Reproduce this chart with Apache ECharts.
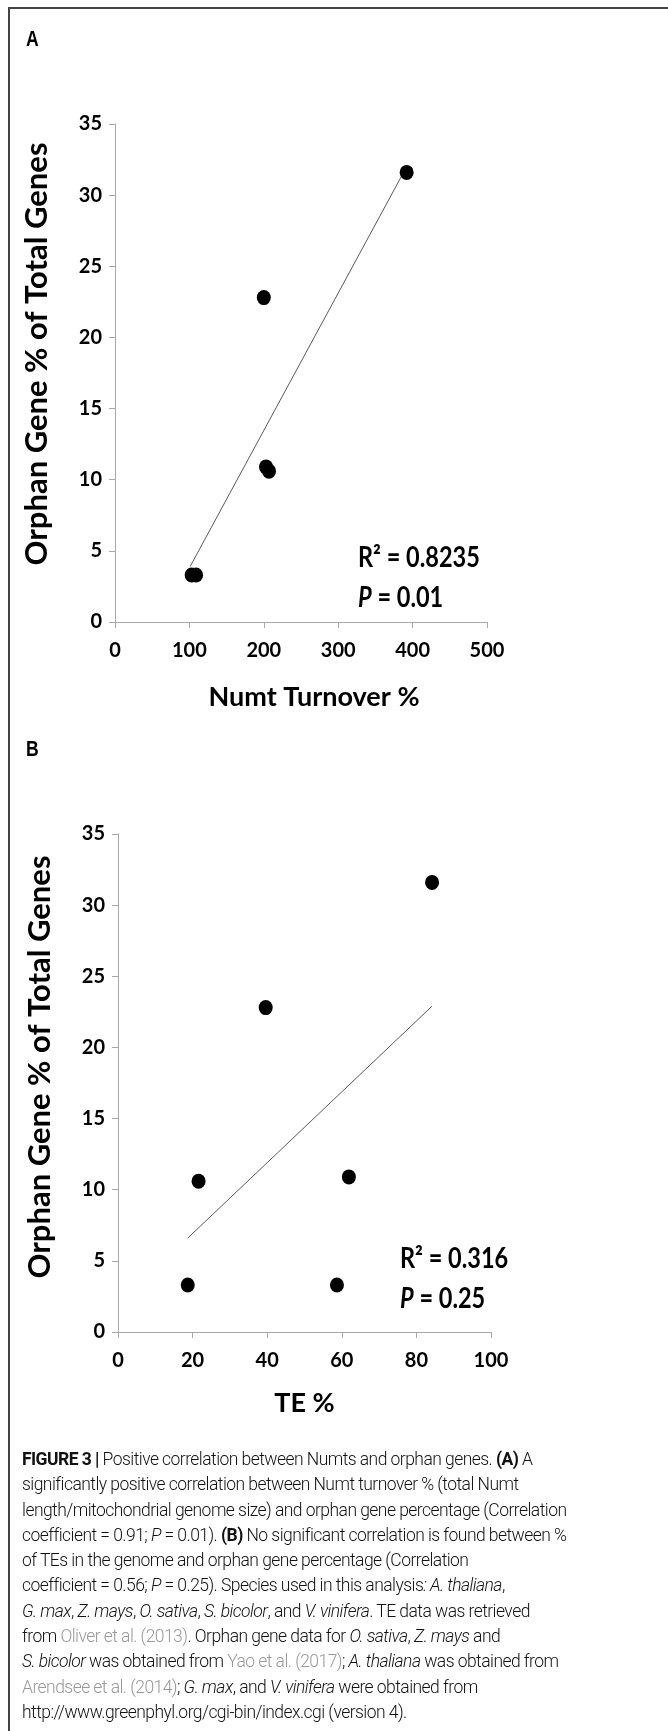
<!DOCTYPE html>
<html>
<head>
<meta charset="utf-8">
<script src="https://cdn.jsdelivr.net/npm/echarts@6/dist/echarts.min.js"></script>
<style>
  html, body { margin: 0; padding: 0; background: #fff; }
  #wrap { position: relative; width: 668px; height: 1731px; overflow: hidden; }
  #chart { position: absolute; left: 0; top: 0; width: 668px; height: 1731px; }
  #caption {
    position: absolute; left: 22px; top: 1447px; width: 700px;
    font-family: Roboto, "Liberation Sans", sans-serif; font-weight: 300;
    font-size: 17.5px; line-height: 25.3px; color: #111; letter-spacing: -0.55px;
    white-space: nowrap;
  }
  #caption b { font-weight: 700; color: #111; }
  #caption .ref { color: #999; }
</style>
</head>
<body>
<div id="wrap">
  <div id="chart"></div>
  <div id="caption">
    <b>FIGURE 3 |</b> Positive correlation between Numts and orphan genes. <b>(A)</b> A<br>
    significantly positive correlation between Numt turnover % (total Numt<br>
    length/mitochondrial genome size) and orphan gene percentage (Correlation<br>
    coefficient = 0.91; <i>P</i> = 0.01). <b>(B)</b> No significant correlation is found between %<br>
    of TEs in the genome and orphan gene percentage (Correlation<br>
    coefficient = 0.56; <i>P</i> = 0.25). Species used in this analysis<i>: A. thaliana</i>,<br>
    <i>G. max</i>, <i>Z. mays</i>, <i>O. sativa</i>, <i>S. bicolor</i>, and <i>V. vinifera</i>. TE data was retrieved<br>
    from <span class="ref">Oliver et al. (2013)</span>. Orphan gene data for <i>O. sativa</i>, <i>Z. mays</i> and<br>
    <i>S. bicolor</i> was obtained from <span class="ref">Yao et al. (2017)</span>; <i>A. thaliana</i> was obtained from<br>
    <span class="ref">Arendsee et al. (2014)</span>; <i>G. max</i>, and <i>V. vinifera</i> were obtained from<br>
    http://www.greenphyl.org/cgi-bin/index.cgi (version 4).
  </div>
</div>
<script>
// panel A: Numt turnover vs orphan genes
const numtTurnover = [103, 109, 200, 203, 207, 392];
const orphanA = [3.3, 3.3, 22.8, 10.9, 10.6, 31.6];
const trendAX = [101, 392];
const trendAY = [3.9, 32.0];
const statsA = ['R² = 0.8235', '0.01'];

// panel B: TE % vs orphan genes
const tePct = [18.7, 21.6, 39.6, 58.7, 61.9, 84.2];
const orphanB = [3.3, 10.6, 22.8, 3.3, 10.9, 31.6];
const trendBX = [18.7, 84.2];
const trendBY = [6.6, 22.9];
const statsB = ['R² = 0.316', '0.25'];

const yTicks = [0, 5, 10, 15, 20, 25, 30, 35];
const xTicksA = [0, 100, 200, 300, 400, 500];
const xTicksB = [0, 20, 40, 60, 80, 100];

const FONT = 'Lato, "Open Sans", sans-serif';
const axisGray = '#a8a8a8';

function pairs(xs, ys) {
  return xs.map((x, i) => [x, ys[i]]);
}

function xAxisCfg(idx, ticks, name, gap, namePad) {
  return {
    gridIndex: idx, type: 'value',
    min: ticks[0], max: ticks[ticks.length - 1], interval: ticks[1] - ticks[0],
    axisLine: { show: true, onZero: false, lineStyle: { color: axisGray, width: 1 } },
    axisTick: { show: true, length: 6, lineStyle: { color: axisGray } },
    splitLine: { show: false },
    axisLabel: { color: '#000', fontFamily: FONT, fontWeight: 'bold', fontSize: 20, margin: 19 },
    name: name, nameLocation: 'middle', nameGap: gap,
    nameTextStyle: { color: '#000', fontFamily: FONT, fontWeight: 'bold', fontSize: 27, padding: namePad }
  };
}

function yAxisCfg(idx, namePad) {
  return {
    gridIndex: idx, type: 'value',
    min: yTicks[0], max: yTicks[yTicks.length - 1], interval: yTicks[1] - yTicks[0],
    axisLine: { show: true, lineStyle: { color: axisGray, width: 1 } },
    axisTick: { show: true, length: 6, lineStyle: { color: axisGray } },
    splitLine: { show: false },
    axisLabel: { color: '#000', fontFamily: FONT, fontWeight: 'bold', fontSize: 20, margin: 13 },
    name: 'Orphan Gene % of Total Genes', nameLocation: 'middle', nameRotate: 90, nameGap: 63,
    nameTextStyle: { color: '#000', fontFamily: FONT, fontWeight: 'bold', fontSize: 31, padding: namePad }
  };
}

function statText(x, y, stats) {
  return [
    { type: 'text', x: x, y: y, scaleX: 0.84,
      style: { text: stats[0], fontFamily: FONT, fontWeight: 'bold', fontSize: 28, fill: '#000', textVerticalAlign: 'middle' } },
    { type: 'text', x: x, y: y + 40, scaleX: 0.84, style: {
        text: '{i|P}{b| = ' + stats[1] + '}',
        textVerticalAlign: 'middle',
        rich: {
          i: { fontFamily: FONT, fontWeight: 'bold', fontStyle: 'italic', fontSize: 28, fill: '#000' },
          b: { fontFamily: FONT, fontWeight: 'bold', fontSize: 28, fill: '#000' }
        }
      } }
  ];
}

function panelLabel(txt, y) {
  return { type: 'text', x: 26, y: y, scaleX: 0.8,
    style: { text: txt, fontFamily: '"Liberation Sans", Arial, sans-serif', fontWeight: 'bold', fontSize: 22,
      fill: '#000', textVerticalAlign: 'middle' } };
}

const chart = echarts.init(document.getElementById('chart'), null, { renderer: 'canvas' });

const option = {
  animation: false,
  backgroundColor: '#fff',
  grid: [
    { left: 115, top: 124, width: 372, height: 498 },
    { left: 118, top: 834, width: 373, height: 498 }
  ],
  xAxis: [
    xAxisCfg(0, xTicksA, 'Numt Turnover %', 62, [0, 0, 0, 26]),
    xAxisCfg(1, xTicksB, 'TE %', 58, [0, 0, 0, 0])
  ],
  yAxis: [
    yAxisCfg(0, [0, 0, 0, 38]),
    yAxisCfg(1, [0, 0, 0, 32])
  ],
  series: [
    { type: 'line', xAxisIndex: 0, yAxisIndex: 0, data: pairs(trendAX, trendAY), symbol: 'none',
      lineStyle: { color: '#5a5a5a', width: 1 }, z: 1 },
    { type: 'scatter', xAxisIndex: 0, yAxisIndex: 0, data: pairs(numtTurnover, orphanA),
      symbolSize: [14, 15], itemStyle: { color: '#000', opacity: 1 }, z: 2 },
    { type: 'line', xAxisIndex: 1, yAxisIndex: 1, data: pairs(trendBX, trendBY), symbol: 'none',
      lineStyle: { color: '#5a5a5a', width: 1 }, z: 1 },
    { type: 'scatter', xAxisIndex: 1, yAxisIndex: 1, data: pairs(tePct, orphanB),
      symbolSize: [14, 15], itemStyle: { color: '#000', opacity: 1 }, z: 2 }
  ],
  graphic: [
    // frame round the figure (right and bottom edges fall outside the page)
    { type: 'rect', shape: { x: 9, y: 8, width: 720, height: 1800 },
      style: { fill: 'none', stroke: '#444', lineWidth: 2 } },
    panelLabel('A', 40),
    panelLabel('B', 750)
  ].concat(statText(358, 558, statsA), statText(400, 1259, statsB))
};

chart.setOption(option);
</script>
</body>
</html>
